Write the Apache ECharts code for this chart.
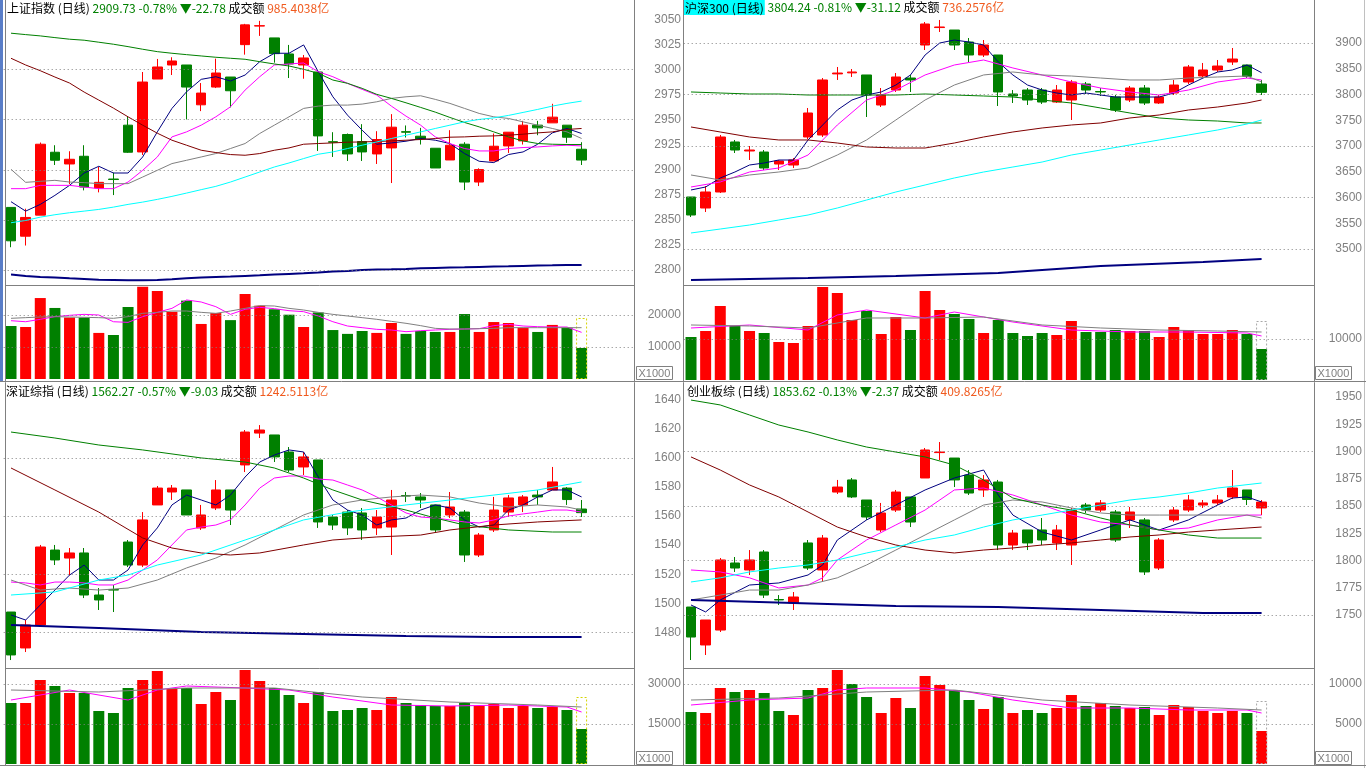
<!DOCTYPE html>
<html><head><meta charset="utf-8">
<script src="https://cdn.jsdelivr.net/npm/echarts@6/dist/echarts.min.js"></script>
<style>html,body{margin:0;padding:0;background:#fff;}#c{width:1366px;height:768px;}</style>
</head><body><div id="c"></div>
<script>
const _ = null;
// ===== 上证指数 =====
const SH_HEADER = ['上证指数 (日线)', '2909.73 -0.78%', '▼-22.78', '成交额', '985.4038亿'];
const SH_TICKS = [2800, 2825, 2850, 2875, 2900, 2925, 2950, 2975, 3000, 3025, 3050];
const SH_GRIDLINES = [2800, 2850, 2900, 2950, 3000];
const SH_VTICKS = [10000, 20000];
const SH_OHLC = [
[2862.5,2829.2,2822.8,2862.5],[2833.8,2852.5,2824.5,2861.2],[2854.8,2925.5,2854.8,2927.2],[2917.5,2909.5,2904.8,2924.5],
[2905.8,2910.5,2885.8,2918.5],[2913.5,2882.8,2879.5,2924.5],[2881.8,2887.5,2877.5,2902.8],[2890.8,2890.3,2874.8,2897.2],
[2944.5,2917.5,2916.8,2953.5],[2917.8,2987.5,2914.8,2997.5],[2990.5,3002.5,2990.5,3010.5],[3004.5,3008.5,2994.5,3012.2],
[3004.5,2982.5,2950.2,3004.5],[2964.8,2976.5,2958.5,2986.5],[2982.5,2996.5,2981.5,3010.8],[2992.5,2978.8,2962.2,2992.5],
[3024.8,3044.5,3014.8,3045.5],[3043.3,3043.7,3033.5,3048.5],[3031.5,3015.8,3006.8,3031.5],[3015.5,3005.5,2991.5,3024.5],
[3004.5,3011.5,2990.8,3014.5],[2997.5,2933.8,2918.8,2997.5],[2928.0,2927.5,2912.8,2937.5],[2935.2,2915.8,2908.8,2936.2],
[2928.2,2917.8,2908.8,2945.5],[2915.8,2930.2,2905.8,2938.5],[2921.8,2942.5,2886.8,2955.5],[2938.0,2937.5,2932.2,2944.2],
[2933.5,2930.8,2925.2,2941.8],[2921.5,2901.8,2901.8,2921.5],[2909.8,2924.5,2909.8,2939.5],[2925.5,2887.8,2879.8,2927.5],
[2887.8,2900.2,2883.8,2901.5],[2908.8,2923.5,2908.8,2936.2],[2923.8,2937.5,2916.8,2937.5],[2928.8,2944.5,2925.2,2948.8],
[2944.5,2941.8,2934.5,2948.8],[2946.8,2952.5,2946.8,2965.8],[2944.5,2932.5,2926.8,2944.5],[2920.5,2909.7,2904.8,2927.5]];
const SH_MA5 = [2868.2,2858.8,2865.5,2874.5,2884.5,2896.8,2903.5,2896.8,2896.8,2912.8,2937.8,2961.2,2977.8,2990.2,2992.8,2988.5,2994.5,3007.8,3016.2,3016.2,3024.5,2997.8,2972.8,2954.5,2939.5,2925.5,2926.8,2928.5,2931.2,2929.5,2926.2,2916.2,2908.5,2907.2,2915.2,2917.8,2925.5,2936.8,2941.2,2936.2];
const SH_MA10 = [2881.2,2881.2,2884.5,2884.5,2884.5,2882.8,2881.2,2881.2,2887.8,2899.5,2912.8,2932.8,2937.8,2944.5,2952.8,2962.8,2979.5,2992.8,3004.5,3005.5,3006.5,2997.8,2992.8,2986.2,2980.2,2974.5,2963.5,2953.5,2944.5,2932.8,2926.2,2921.2,2918.8,2918.8,2921.2,2922.2,2922.8,2923.8,2924.5,2923.8];
const SH_MA20 = [2900.5,2887.5,2888.5,2889.5,2887.8,2887.2,2886.2,2886.2,2886.2,2892.8,2899.5,2906.2,2909.5,2912.8,2916.2,2921.2,2926.2,2936.2,2944.5,2952.8,2961.2,2963.5,2964.5,2964.5,2965.5,2967.8,2971.2,2972.8,2973.8,2970.2,2966.2,2961.2,2956.2,2952.8,2951.2,2947.8,2944.5,2941.2,2937.8,2931.2];
const SH_MA60 = [3036.2,3034.8,3033.5,3031.8,3030.2,3029.2,3027.2,3025.2,3022.8,3020.2,3017.8,3016.2,3014.8,3013.5,3012.2,3011.2,3010.2,3007.8,3005.5,3003.5,3000.2,2996.2,2989.5,2986.2,2981.2,2975.2,2971.2,2966.8,2962.2,2957.5,2952.2,2947.2,2942.8,2937.8,2932.8,2928.8,2926.2,2925.5,2925.2,2925.2];
const SH_MA120 = [3011.2,3004.5,2998.8,2992.5,2986.5,2977.5,2969.5,2961.5,2952.8,2944.5,2936.5,2929.5,2924.5,2919.5,2917.2,2915.2,2914.5,2916.2,2919.5,2921.8,2925.5,2926.2,2926.8,2927.5,2927.8,2928.2,2928.8,2929.5,2930.2,2931.2,2932.5,2932.8,2933.5,2933.8,2934.5,2935.5,2936.8,2937.8,2940.2,2941.2];
const SH_MA250 = [2847.2,2849.5,2852.8,2855.2,2857.2,2858.8,2860.5,2862.8,2865.5,2867.8,2870.5,2873.5,2876.8,2880.2,2883.5,2887.8,2892.8,2897.8,2902.8,2906.8,2911.2,2915.5,2917.8,2921.2,2924.5,2927.8,2931.2,2934.5,2937.8,2941.2,2944.5,2947.8,2950.2,2951.8,2954.2,2957.2,2960.2,2963.5,2966.2,2968.5];
const SH_MALONG = [2795.5,2794.2,2793.2,2792.5,2791.8,2791.2,2790.5,2790.2,2789.8,2789.8,2790.2,2790.8,2791.8,2792.5,2793.2,2793.5,2794.2,2794.8,2795.5,2796.2,2796.8,2797.5,2798.5,2799.2,2800.2,2800.5,2800.8,2801.2,2801.8,2802.2,2802.5,2802.8,2803.2,2803.5,2803.8,2804.2,2804.5,2804.8,2805.2,2805.2];
const SH_VOL = [16560,16250,25300,22200,19200,19200,14400,13750,22500,28800,27500,21000,24500,17200,20600,18400,26600,22900,21800,20100,16250,20800,15300,14100,15000,14400,17500,14100,15000,14700,14700,20300,14700,17800,17500,16000,14700,16900,16000,9700];
const SH_VMA5 = [18220,17900,18650,19480,19900,20200,20000,17900,17700,19480,20830,22080,24700,24060,22600,20200,21770,22400,21980,21350,21040,19690,17900,16560,16040,15520,15310,14790,15100,15310,15520,15625,15730,16670,17080,16560,16350,16250,16250,14580];
const SH_VMA10 = [18960,19170,19375,19480,19375,19270,19170,18960,19480,20520,20830,21250,21250,20830,20520,21250,22080,22920,22810,22080,21560,20830,20200,19690,19170,18650,18020,17400,16670,15830,15625,15625,15730,15830,16040,16040,16040,16040,16040,16040];
const SH_BOX = 19062;

// ===== 沪深300 =====
const HS_HEADER = ['沪深300 (日线)', '3804.24 -0.81%', '▼-31.12', '成交额', '736.2576亿'];
const HS_TICKS = [3500, 3550, 3600, 3650, 3700, 3750, 3800, 3850, 3900];
const HS_GRIDLINES = [3500, 3600, 3700, 3800, 3900];
const HS_VTICKS = [10000];
const HS_OHLC = [
[3601.0,3566.0,3562.1,3601.0],[3579.6,3610.7,3571.8,3622.3],[3610.7,3717.5,3608.7,3721.4],[3707.8,3692.2,3686.4,3711.7],
[3690.3,3692.2,3672.8,3700.0],[3688.3,3657.3,3653.4,3692.2],[3665.0,3670.9,3653.4,3672.8],[3663.1,3672.8,3657.3,3676.7],
[3717.5,3764.1,3713.6,3773.8],[3721.4,3828.2,3717.5,3832.0],[3840.0,3841.7,3828.2,3853.4],[3842.0,3843.7,3834.0,3849.5],
[3837.9,3799.0,3756.3,3837.9],[3779.6,3799.0,3775.7,3812.6],[3808.7,3834.0,3804.9,3841.7],[3832.0,3828.2,3804.9,3837.9],
[3896.1,3936.9,3886.4,3940.8],[3930.0,3931.1,3921.4,3944.7],[3925.2,3896.1,3886.4,3925.2],[3901.9,3876.7,3863.1,3909.7],
[3876.7,3896.1,3872.8,3905.8],[3876.7,3804.9,3777.7,3876.7],[3801.0,3797.1,3783.5,3808.7],[3808.7,3789.3,3779.6,3812.6],
[3808.7,3785.4,3781.6,3812.6],[3785.4,3808.7,3783.5,3818.4],[3789.3,3824.3,3750.5,3828.2],[3820.4,3808.7,3801.0,3824.3],
[3805.8,3804.9,3797.1,3812.6],[3795.1,3769.9,3766.0,3799.0],[3789.3,3812.6,3785.4,3816.5],[3812.6,3783.5,3779.6,3818.4],
[3783.5,3795.1,3781.6,3799.0],[3802.9,3818.4,3799.0,3828.2],[3824.3,3853.4,3820.4,3857.3],[3835.9,3847.6,3832.0,3861.2],
[3847.6,3855.3,3843.7,3867.0],[3863.1,3868.9,3857.3,3890.3],[3857.3,3835.4,3832.0,3857.3],[3820.4,3804.2,3799.0,3828.2]];
const HS_MA5 = [3614.6,3620.4,3637.9,3649.5,3663.1,3667.0,3672.8,3672.8,3711.7,3740.8,3769.9,3789.3,3799.0,3804.9,3818.4,3837.9,3876.7,3900.0,3905.8,3901.9,3896.1,3863.1,3837.9,3818.4,3808.7,3802.9,3799.0,3802.9,3799.0,3795.1,3795.1,3795.1,3795.1,3802.9,3818.4,3832.0,3843.7,3847.6,3857.3,3842.3];
const HS_MA10 = [3620.4,_,3630.1,_,3649.5,_,3657.3,_,3682.5,_,3740.8,_,3789.3,_,3808.7,_,3837.9,_,3857.3,_,3867.0,_,3851.5,_,3837.9,_,3824.3,_,3812.6,_,3804.9,_,3799.0,_,3808.7,_,3824.3,_,3832.0,3828.2];
const HS_MA20 = [3643.7,_,3634.0,_,3643.7,_,3649.5,_,3657.3,_,3682.5,_,3711.7,_,3750.5,_,3789.3,_,3818.4,_,3837.9,_,3843.7,_,3837.9,_,3835.9,_,3832.0,_,3828.2,_,3828.2,_,3832.0,_,3834.0,_,3835.9,3824.3];
const HS_MA60 = [3804.9,_,3802.9,_,3801.0,_,3801.0,_,3799.0,_,3799.0,_,3799.0,_,3799.0,_,3801.0,_,3799.0,_,3797.1,_,3795.1,_,3789.3,_,3783.5,_,3773.8,_,3764.1,_,3754.4,_,3750.5,_,3748.5,_,3744.7,3744.7];
const HS_MA120 = [3736.9,_,3727.2,_,3717.5,_,3711.7,_,3711.7,_,3705.8,_,3698.1,_,3696.1,_,3696.1,_,3705.8,_,3717.5,_,3727.2,_,3735.0,_,3740.8,_,3744.7,_,3754.4,_,3760.2,_,3769.9,_,3775.7,_,3783.5,3789.3];
const HS_MA250 = [3531.1,_,3538.8,_,3546.6,_,3556.3,_,3566.0,_,3579.6,_,3595.1,_,3610.7,_,3624.3,_,3637.9,_,3649.5,_,3659.2,_,3668.9,_,3682.5,_,3692.2,_,3702.0,_,3711.7,_,3721.4,_,3731.1,_,3742.7,3750.5];
const HS_MALONG = [3439.8,_,_,_,_,_,_,_,3443.7,_,_,_,_,_,3447.6,_,_,_,_,_,_,3453.4,_,_,_,_,_,_,3467.0,_,_,_,_,_,_,3474.8,_,_,_,3480.6];
const HS_VOL = [10488,11951,18049,13171,11951,11463,9268,9024,13171,22683,21220,14634,16829,11220,15366,12195,21707,17073,16098,14878,11463,14634,11463,10732,11463,10976,14390,11707,11707,12195,11951,11951,10488,12927,12195,11220,11220,12195,11220,7561];
const HS_VMA5 = [12683,_,_,_,13415,_,_,_,12195,_,15854,_,17073,_,_,_,15122,_,16585,_,_,_,14146,_,_,_,12195,_,_,_,11707,_,_,_,11707,_,_,_,11463,10732];
const HS_VMA10 = [13415,_,_,_,13171,_,_,_,12683,_,_,_,15122,_,_,_,15122,_,_,_,15366,_,_,_,13415,_,_,_,12683,_,_,_,12195,_,_,_,11951,_,_,11707];
const HS_BOX = 14390;

// ===== 深证综指 =====
const SZ_HEADER = ['深证综指 (日线)', '1562.27 -0.57%', '▼-9.03', '成交额', '1242.5113亿'];
const SZ_TICKS = [1480, 1500, 1520, 1540, 1560, 1580, 1600, 1620, 1640];
const SZ_GRIDLINES = [1480, 1520, 1560, 1600];
const SZ_VTICKS = [15000, 30000];
const SZ_OHLC = [
[1494.0,1464.5,1461.0,1494.0],[1469.3,1485.1,1466.5,1488.5],[1485.1,1538.7,1483.7,1540.1],[1536.6,1529.8,1526.3,1540.1],
[1531.1,1534.6,1519.4,1538.0],[1534.6,1505.7,1503.6,1538.0],[1505.7,1502.3,1495.4,1510.5],[1509.4,1509.1,1494.0,1512.6],
[1542.1,1526.3,1524.9,1543.5],[1526.3,1557.3,1524.9,1562.7],[1567.6,1579.2,1567.6,1580.6],[1576.5,1579.2,1571.0,1581.3],
[1577.9,1560.7,1560.7,1577.9],[1551.8,1560.7,1550.4,1567.6],[1565.5,1577.9,1564.1,1584.7],[1577.9,1564.1,1553.8,1577.9],
[1595.1,1617.7,1590.2,1619.1],[1617.0,1619.1,1613.6,1622.5],[1615.7,1600.6,1597.1,1615.7],[1604.0,1591.6,1590.2,1607.4],
[1593.7,1600.6,1588.2,1604.0],[1598.5,1555.9,1551.8,1598.5],[1559.3,1553.8,1550.4,1560.7],[1562.7,1551.8,1546.9,1564.1],
[1562.1,1550.4,1543.5,1565.5],[1551.8,1559.3,1546.9,1564.1],[1552.4,1571.0,1533.2,1577.9],[1574.1,1573.7,1569.6,1576.5],
[1573.1,1571.0,1565.5,1575.8],[1567.6,1550.4,1549.0,1567.6],[1560.7,1566.2,1558.6,1576.5],[1562.7,1533.2,1528.4,1564.1],
[1533.2,1546.9,1531.8,1548.3],[1550.4,1564.1,1549.0,1573.1],[1562.7,1572.4,1559.3,1574.4],[1567.6,1573.1,1562.7,1574.4],
[1574.4,1573.1,1567.6,1577.9],[1577.9,1583.4,1577.9,1593.7],[1579.2,1571.3,1567.6,1579.9],[1564.8,1562.3,1559.3,1571.0]];
const SZ_MA5 = [1492.0,1488.5,1498.8,1509.1,1519.4,1526.3,1516.0,1516.0,1522.9,1540.1,1551.8,1567.6,1574.4,1571.0,1567.6,1574.4,1586.8,1597.1,1601.9,1605.4,1604.0,1586.8,1571.0,1564.1,1560.7,1553.8,1557.3,1558.6,1564.1,1567.6,1565.5,1557.3,1552.4,1553.8,1564.1,1567.6,1573.1,1577.9,1577.9,1573.1];
const SZ_MA10 = [1514.6,1514.0,1512.6,1514.6,1514.6,1514.0,1512.6,1512.6,1516.0,1522.9,1529.8,1540.1,1550.4,1552.4,1553.8,1557.3,1567.6,1579.2,1586.1,1587.5,1587.5,1585.4,1584.7,1581.3,1577.9,1573.1,1567.6,1562.1,1559.3,1558.6,1557.3,1555.9,1555.2,1557.3,1560.0,1561.4,1562.7,1564.1,1564.1,1562.7];
const SZ_MA20 = [1516.0,_,1509.1,_,1510.5,_,1509.1,_,1510.5,_,1516.0,_,1524.3,_,1531.1,_,1540.1,_,1550.4,_,1560.7,_,1567.6,_,1571.0,_,1573.1,_,1574.4,_,1573.1,_,1568.9,_,1566.2,_,1567.6,_,1566.2,1564.1];
const SZ_MA60 = [1617.7,_,_,1613.6,_,_,1608.8,_,_,1605.4,_,_,_,1599.9,_,_,1597.1,_,1593.0,_,1586.1,_,1577.9,_,1571.0,_,_,1564.1,_,1558.6,_,1553.8,_,_,1550.4,_,_,1549.0,_,1549.0];
const SZ_MA120 = [1593.0,_,_,1577.9,_,_,1562.7,_,_,1544.9,_,1538.0,_,1534.6,_,1533.2,_,1534.6,_,_,1540.1,_,1543.5,_,_,1545.6,_,_,1546.9,_,1550.4,_,_,1553.8,_,_,1555.9,_,_,1557.3];
const SZ_MA250 = [1505.7,_,_,1507.8,_,_,1516.0,_,1519.4,_,1526.3,_,_,1533.2,_,_,1543.5,_,_,_,1557.3,_,_,1562.7,_,_,_,1567.6,_,_,1571.0,_,_,1574.4,_,_,1577.9,_,_,1583.4];
const SZ_MALONG = [1485.1,_,_,_,_,_,1483.0,_,_,_,_,_,_,1480.3,_,_,_,_,_,_,1478.9,_,_,_,_,_,_,1477.5,_,_,_,_,_,1476.8,_,_,_,_,_,1476.8];
const SZ_VOL = [22875,22875,31500,29250,26625,26625,19875,19125,28500,31500,34875,28125,28500,22500,27000,24000,35250,31125,28500,25875,22875,27000,19875,20250,21000,20250,25125,22875,22125,21750,21750,22875,21750,22500,21000,21750,21000,21375,20250,13125];
const SZ_VMA5 = [24000,_,_,_,27750,_,_,_,24000,_,27750,_,29250,_,_,_,28500,_,_,27750,_,_,25125,_,_,_,22125,_,_,_,21750,_,_,_,22125,_,_,_,21375,19500];
const SZ_VMA10 = [27750,_,_,_,_,_,27000,_,_,_,_,_,28500,_,_,_,_,_,28500,_,_,_,_,_,25125,_,_,_,_,_,23250,_,_,_,_,_,22125,_,_,21375];
const SZ_BOX = 25125;

// ===== 创业板综 =====
const CY_HEADER = ['创业板综 (日线)', '1853.62 -0.13%', '▼-2.37', '成交额', '409.8265亿'];
const CY_TICKS = [1750, 1775, 1800, 1825, 1850, 1875, 1900, 1925, 1950];
const CY_GRIDLINES = [1750, 1800, 1850, 1900];
const CY_VTICKS = [5000, 10000];
const CY_OHLC = [
[1757.3,1729.8,1708.7,1757.3],[1722.5,1745.4,1713.3,1745.4],[1736.2,1800.5,1734.4,1802.3],[1797.7,1793.1,1789.5,1803.2],
[1791.3,1800.5,1786.7,1809.6],[1807.8,1768.3,1765.6,1809.6],[1764.2,1763.8,1759.2,1768.3],[1761.0,1766.5,1754.6,1771.1],
[1816.1,1793.1,1791.3,1818.8],[1791.3,1820.6,1780.3,1823.4],[1862.8,1867.4,1861.0,1873.9],[1873.9,1858.3,1857.3,1875.7],
[1855.5,1839.9,1837.2,1855.5],[1828.0,1843.6,1826.1,1852.8],[1846.3,1862.8,1844.5,1864.7],[1858.3,1835.3,1830.7,1858.3],
[1875.7,1901.4,1875.7,1903.2],[1899.0,1899.5,1892.2,1908.7],[1894.0,1873.9,1867.4,1894.0],[1878.4,1861.9,1860.1,1883.0],
[1864.7,1873.9,1858.3,1878.4],[1872.0,1814.2,1809.6,1873.9],[1814.2,1825.2,1809.6,1828.0],[1828.0,1816.1,1809.6,1828.0],
[1828.0,1818.8,1814.2,1839.0],[1816.1,1828.0,1809.6,1832.6],[1814.2,1846.3,1795.9,1848.2],[1850.9,1846.3,1843.6,1852.8],
[1846.3,1852.8,1844.5,1855.5],[1844.5,1818.8,1817.0,1846.3],[1837.2,1844.5,1829.8,1849.1],[1837.2,1789.5,1786.7,1839.0],
[1793.1,1818.8,1791.3,1820.6],[1837.2,1846.3,1835.3,1849.1],[1846.3,1855.5,1844.5,1860.1],[1850.9,1852.8,1848.2,1855.5],
[1852.8,1855.5,1850.9,1860.1],[1858.3,1866.5,1856.4,1883.0],[1864.7,1856.0,1850.9,1864.7],[1848.2,1853.6,1841.7,1855.5]];
const CY_MA5 = [1759.2,1752.8,1763.8,_,1777.5,_,1779.4,_,1786.7,1795.9,1818.8,_,1837.2,_,1850.9,_,1864.7,_,1875.7,_,1883.0,1860.1,1841.7,_,1826.1,_,1818.8,_,1828.0,_,1837.2,_,1828.0,_,1837.2,_,1850.9,1857.3,1858.3,1853.7];
const CY_MA10 = [1791.3,_,1789.5,_,1784.1,_,1774.8,_,1777.5,1784.1,1800.5,_,1818.8,_,1832.6,_,1846.3,_,1864.7,_,1866.5,_,1860.1,_,1850.9,_,1841.7,_,1835.3,_,1832.6,_,1828.0,_,1829.8,_,1837.2,_,1841.7,1841.7];
const CY_MA20 = [1763.8,_,1768.3,_,1772.9,_,1772.9,_,1777.5,_,1784.1,_,1795.9,_,1809.6,_,1823.4,_,1837.2,_,1850.9,_,1855.5,_,1853.7,_,1848.2,_,1843.6,_,1841.7,_,1841.7,_,1841.7,_,1841.7,_,1841.7,1839.0];
const CY_MA60 = [1947.2,_,1942.7,_,1933.5,_,1924.3,_,1917.9,_,1910.6,_,1904.1,_,1899.5,_,1895.0,_,1887.6,_,1873.9,_,1857.3,_,1850.9,_,1846.3,_,1839.0,_,1832.6,_,1828.0,_,1823.4,_,1820.6,_,_,1820.6];
const CY_MA120 = [1895.0,_,1883.0,_,1869.3,_,1858.3,_,1844.5,_,1830.7,_,1821.6,_,1814.2,_,1809.6,_,1806.9,_,1809.6,_,1811.5,_,1814.2,_,1816.1,_,1818.8,_,1821.6,_,1823.4,_,1826.1,_,1828.0,_,_,1830.7];
const CY_MA250 = [1780.3,_,1784.1,_,1789.5,_,1793.1,_,1795.9,_,1800.5,_,1806.9,_,1812.4,_,1818.8,_,1823.4,_,1830.7,_,1837.2,_,1841.7,_,1846.3,_,1850.9,_,1855.5,_,1858.3,_,1861.9,_,1866.5,_,_,1871.1];
const CY_MALONG = [1763.8,_,_,_,_,_,_,1761.0,_,_,_,_,_,_,1758.3,_,_,_,_,_,_,1757.3,_,_,_,_,_,_,1754.6,_,_,_,_,_,_,1751.8,_,_,_,1751.8];
const CY_VOL = [6500,6375,9500,9000,9250,8875,6625,6125,9250,9500,11750,10000,8375,6375,8250,7000,11000,9875,9250,8000,6875,8375,6375,6750,6375,7000,8625,7250,7625,7250,7000,7125,6125,7375,7125,6625,6375,6625,6375,4125];
const CY_VMA5 = [7375,_,_,_,8000,_,_,_,8250,_,9250,_,9500,_,_,_,9500,_,_,9000,_,_,8000,_,_,_,7000,_,_,_,7000,_,_,_,6750,_,_,_,6750,6375];
const CY_VMA10 = [8000,_,_,_,_,_,8250,_,_,_,_,_,9000,_,_,_,_,_,9250,_,_,_,_,_,8000,_,_,_,_,_,7375,_,_,_,_,_,7000,_,_,6750];
const CY_BOX = 7875;

// ===== layout / style =====
const SLOTS = 43, SLOT_W = 14.63;
const SLOT_NAMES = Array.from({length: SLOTS}, (v, i) => 'd' + (i + 1));
const UP = '#ff0000', DOWN = '#008000';
const MA_COLORS = ['#000080', '#ff00ff', '#808080', '#008000', '#800000', '#00ffff', '#000080'];
const LBL_FONT = 'Liberation Sans';
const CJK = 'Noto Sans CJK SC';

const panels = [
  {h: SH_HEADER, hl: false, tl: 7, tt: 2, xLeft: 3.7, lr: 681,
   price: {ref: 3000, y: 69.5, k: 1.003, min: 2775, max: 3060, iv: 25}, ticks: SH_TICKS, lines: SH_GRIDLINES,
   vol: {zero: 379, k: 0.0032, max: 29062, iv: 10000}, vticks: SH_VTICKS,
   ohlc: SH_OHLC, mas: [SH_MA5, SH_MA10, SH_MA20, SH_MA60, SH_MA120, SH_MA250, SH_MALONG],
   v: SH_VOL, vma: [SH_VMA5, SH_VMA10], box: SH_BOX, boxColor: '#d4d400'},
  {h: HS_HEADER, hl: true, tl: 683, tt: 0, xLeft: 683.7, lr: 1362,
   price: {ref: 3900, y: 43, k: 0.515, min: 3400, max: 3950, iv: 50}, ticks: HS_TICKS, lines: HS_GRIDLINES,
   vol: {zero: 380, k: 0.0041, max: 22927, iv: 10000}, vticks: HS_VTICKS,
   ohlc: HS_OHLC, mas: [HS_MA5, HS_MA10, HS_MA20, HS_MA60, HS_MA120, HS_MA250, HS_MALONG],
   v: HS_VOL, vma: [HS_VMA5, HS_VMA10], box: HS_BOX, boxColor: '#a8a8a8'},
  {h: SZ_HEADER, hl: false, tl: 6, tt: 385, xLeft: 3.7, lr: 681,
   price: {ref: 1560, y: 516, k: 1.455, min: 1440, max: 1660, iv: 20}, ticks: SZ_TICKS, lines: SZ_GRIDLINES,
   vol: {zero: 764, k: 40 / 15000, max: 35600, iv: 15000}, vticks: SZ_VTICKS,
   ohlc: SZ_OHLC, mas: [SZ_MA5, SZ_MA10, SZ_MA20, SZ_MA60, SZ_MA120, SZ_MA250, SZ_MALONG],
   v: SZ_VOL, vma: [SZ_VMA5, SZ_VMA10], box: SZ_BOX, boxColor: '#d4d400'},
  {h: CY_HEADER, hl: false, tl: 687, tt: 385, xLeft: 683.7, lr: 1362,
   price: {ref: 1950, y: 397, k: 1.09, min: 1700, max: 1975, iv: 25}, ticks: CY_TICKS, lines: CY_GRIDLINES,
   vol: {zero: 764, k: 0.008, max: 11870, iv: 5000}, vticks: CY_VTICKS,
   ohlc: CY_OHLC, mas: [CY_MA5, CY_MA10, CY_MA20, CY_MA60, CY_MA120, CY_MA250, CY_MALONG],
   v: CY_VOL, vma: [CY_VMA5, CY_VMA10], box: CY_BOX, boxColor: '#a8a8a8'}
];

const option = {animation: false, backgroundColor: '#ffffff', title: [], grid: [], xAxis: [], yAxis: [], series: [], graphic: []};
const dotted = {color: '#808080', type: [1, 3], width: 1};

function yAxisFor(gi, min, max, iv, ticks, margin) {
  return {type: 'value', gridIndex: gi, position: 'right', min: min, max: max, interval: iv, scale: false,
    axisLine: {show: false}, axisTick: {show: false}, splitLine: {show: false},
    axisLabel: {align: 'right', margin: margin, color: '#808080', fontFamily: LBL_FONT, fontSize: 12,
      formatter: function (v) { return ticks.indexOf(Math.round(v)) >= 0 && Math.abs(v - Math.round(v)) < 1e-6 ? String(Math.round(v)) : ''; }}};
}

panels.forEach(function (p, idx) {
  const gi = idx * 2;
  const w = SLOT_W * SLOTS;
  const pr = p.price;
  const pTop = pr.y - (pr.max - pr.ref) * pr.k;
  const pH = (pr.max - pr.min) * pr.k;
  option.grid.push({left: p.xLeft, top: pTop, width: w, height: pH, show: false, containLabel: false, outerBoundsMode: 'none'});
  const vv = p.vol;
  option.grid.push({left: p.xLeft, top: vv.zero - vv.max * vv.k, width: w, height: vv.max * vv.k, show: false, containLabel: false, outerBoundsMode: 'none'});
  for (let j = 0; j < 2; j++) option.xAxis.push({type: 'category', gridIndex: gi + j, data: SLOT_NAMES, show: false, boundaryGap: true});
  const margin = p.lr - (p.xLeft + w);
  option.yAxis.push(yAxisFor(gi, pr.min, pr.max, pr.iv, p.ticks, margin));
  option.yAxis.push(yAxisFor(gi + 1, 0, vv.max, vv.iv, p.vticks, margin));

  option.title.push({left: p.tl, top: p.tt, padding: 0,
    text: '{n|' + p.h[0] + '} {g|' + p.h[1] + '} {g|' + p.h[2] + '} {k|' + p.h[3] + '} {o|' + p.h[4] + '}',
    textStyle: {fontFamily: CJK, fontSize: 12, fontWeight: 'normal', color: '#000',
      rich: {n: {color: '#000', fontFamily: CJK, fontSize: 12, backgroundColor: p.hl ? '#00ffff' : 'transparent', padding: p.hl ? [2, 1, 1, 2] : 0},
             g: {color: '#008000', fontFamily: CJK, fontSize: 12},
             k: {color: '#000', fontFamily: CJK, fontSize: 12},
             o: {color: '#f05a1e', fontFamily: CJK, fontSize: 12}}}});

  option.series.push({type: 'candlestick', xAxisIndex: gi, yAxisIndex: gi, data: p.ohlc, barWidth: 10, z: 2,
    itemStyle: {color: UP, color0: DOWN, borderColor: UP, borderColor0: DOWN, borderWidth: 1},
    markLine: {silent: true, symbol: 'none', label: {show: false}, lineStyle: dotted, animation: false,
      data: p.lines.map(function (v) { return {yAxis: v}; })}});
  p.mas.forEach(function (arr, k) {
    option.series.push({type: 'line', xAxisIndex: gi, yAxisIndex: gi, data: arr, showSymbol: false, symbol: 'none',
      connectNulls: true, silent: true, z: 3,
      lineStyle: {color: MA_COLORS[k], width: k === 6 ? 2 : 1}});
  });
  option.series.push({type: 'bar', xAxisIndex: gi + 1, yAxisIndex: gi + 1, barWidth: 11, barGap: '-100%', z: 2,
    data: p.v.map(function (val, i) { return {value: val, itemStyle: {color: p.ohlc[i][1] >= p.ohlc[i][0] ? UP : DOWN}}; }),
    markLine: {silent: true, symbol: 'none', label: {show: false}, lineStyle: dotted, animation: false,
      data: p.vticks.map(function (v) { return {yAxis: v}; })}});
  option.series.push({type: 'bar', xAxisIndex: gi + 1, yAxisIndex: gi + 1, barWidth: 11, barGap: '-100%', z: 3, silent: true,
    data: p.v.map(function (val, i) { return i === p.v.length - 1 ? p.box : null; }),
    itemStyle: {color: 'rgba(0,0,0,0)', borderColor: p.boxColor, borderType: [2, 2], borderWidth: 1}});
  p.vma.forEach(function (arr, k) {
    option.series.push({type: 'line', xAxisIndex: gi + 1, yAxisIndex: gi + 1, data: arr, showSymbol: false, symbol: 'none',
      connectNulls: true, silent: true, z: 4, lineStyle: {color: k === 0 ? '#ff00ff' : '#808080', width: 1}});
  });
});

function ln(x1, y1, x2, y2, c) { return {type: 'line', silent: true, z: 10, shape: {x1: x1, y1: y1, x2: x2, y2: y2}, style: {stroke: c || '#808080', lineWidth: 1}}; }
function unitBox(x, y) {
  return [{type: 'rect', silent: true, z: 10, shape: {x: x, y: y, width: 36, height: 13}, style: {fill: '#fff', stroke: '#808080', lineWidth: 1}},
          {type: 'text', silent: true, z: 11, x: x + 2, y: y + 1.5, style: {text: 'X1000', fill: '#808080', font: '11px "Liberation Sans"'}}];
}
option.graphic = [
  {type: 'rect', silent: true, z: 10, shape: {x: 0, y: 0, width: 3, height: 381}, style: {fill: '#5a7ec8'}},
  ln(5.5, 0, 5.5, 765), ln(634.5, 0, 634.5, 765), ln(683.5, 0, 683.5, 765), ln(1314.5, 0, 1314.5, 765), ln(1364.5, 0, 1364.5, 768, '#c0c0c0'),
  ln(5, 285.5, 634.5, 285.5), ln(683.5, 285.5, 1314.5, 285.5),
  ln(0, 381.5, 1366, 381.5),
  ln(5, 668.5, 634.5, 668.5), ln(683.5, 668.5, 1314.5, 668.5),
  ln(0, 765.5, 1366, 765.5)
].concat(unitBox(636.5, 366.5), unitBox(1315.5, 366.5), unitBox(636.5, 751.5), unitBox(1315.5, 751.5));

const chart = echarts.init(document.getElementById('c'), null, {renderer: 'canvas'});
chart.setOption(option);
</script></body></html>
